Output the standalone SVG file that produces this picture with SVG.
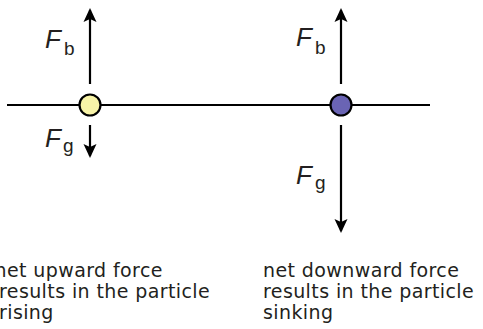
<svg xmlns="http://www.w3.org/2000/svg" width="483" height="329" viewBox="0 0 483 329">
<style>
.ln{stroke:#000;stroke-width:2.2;fill:none}
.ar{stroke:#000;stroke-width:2.2;fill:none;marker-end:url(#ah)}
.F{font-family:"Liberation Sans",Arial,sans-serif;font-style:italic;font-size:26px;fill:#231f20}
.s{font-family:"Liberation Sans",Arial,sans-serif;font-size:19px;fill:#231f20}
.t{font-family:"DejaVu Sans",Verdana,sans-serif;font-size:19px;letter-spacing:0.4px;fill:#231f20}
.c{stroke:#000;stroke-width:2.2}
</style>
<defs>
<marker id="ah" markerUnits="userSpaceOnUse" markerWidth="14" markerHeight="16" refX="12" refY="6.5" orient="auto" viewBox="0 0 14 13">
<path d="M0,0 L14,6.5 L0,13 L3,6.5 Z" fill="#000"/>
</marker>
</defs>
<g id="connectors">
<line class="ln" x1="7" y1="105" x2="430" y2="105"/>
<line class="ar" x1="90" y1="84" x2="90" y2="10"/>
<line class="ar" x1="90" y1="125" x2="90" y2="156"/>
<line class="ar" x1="341" y1="84" x2="341" y2="10"/>
<line class="ar" x1="341" y1="125" x2="341" y2="231"/>
</g>
<g id="particle-rising">
<circle class="c" cx="90" cy="105" r="10.5" fill="#f8f4a8"/>
</g>
<g id="particle-sinking">
<circle class="c" cx="341" cy="105" r="10.5" fill="#6a64b4"/>
</g>
<g id="label-Fb-left"><text class="F" x="45" y="48">F</text><text class="s" x="64" y="55">b</text></g>
<g id="label-Fg-left"><text class="F" x="45" y="147">F</text><text class="s" x="63" y="152">g</text></g>
<g id="label-Fb-right"><text class="F" x="296" y="46">F</text><text class="s" x="315" y="54">b</text></g>
<g id="label-Fg-right"><text class="F" x="296" y="184">F</text><text class="s" x="315" y="189">g</text></g>
<g id="caption-left"><text class="t" x="-5.5" y="277">net upward force</text><text class="t" x="-1" y="298">results in the particle</text><text class="t" x="-1" y="319">rising</text></g>
<g id="caption-right"><text class="t" x="263" y="277">net downward force</text><text class="t" x="263" y="298">results in the particle</text><text class="t" x="263" y="319">sinking</text></g>
</svg>
